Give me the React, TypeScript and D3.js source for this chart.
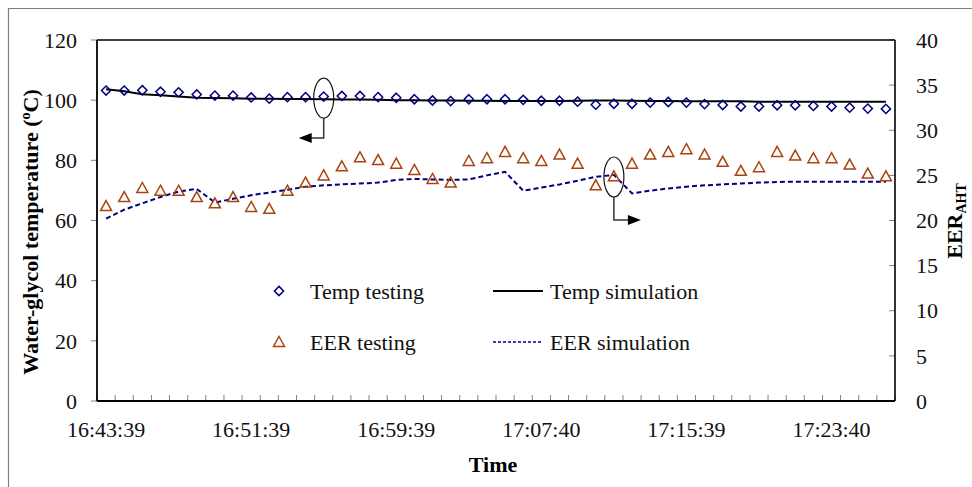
import React from 'react';
import * as d3 from 'd3';

const tempTesting = [
  103.2, 103.2, 103.3, 102.8, 102.6, 101.9, 101.5, 101.5, 100.9, 100.5,
  101.0, 101.0, 101.2, 101.4, 101.4, 101.0, 100.8, 100.3, 99.9, 99.7,
  100.3, 100.3, 100.3, 100.1, 99.8, 99.8, 99.5, 98.5, 98.8, 98.8,
  99.2, 99.4, 99.2, 98.7, 98.4, 97.9, 97.9, 98.3, 98.3, 98.1,
  97.9, 97.5, 97.2, 97.1,
];
const tempSimulation = [
  103.6, 103.0, 102.0, 101.6, 101.2, 100.8, 100.7, 100.6, 100.5, 100.5,
  100.4, 100.4, 100.3, 100.2, 100.2, 100.1, 100.0, 100.0, 99.9, 99.9,
  99.8, 99.8, 99.7, 99.7, 99.7, 99.7, 99.8, 99.9, 99.9, 99.8,
  99.7, 99.7, 99.6, 99.6, 99.6, 99.6, 99.5, 99.5, 99.5, 99.5,
  99.5, 99.5, 99.5, 99.5,
];
const eerTesting = [
  21.6, 22.6, 23.6, 23.3, 23.3, 22.6, 21.9, 22.6, 21.5, 21.3,
  23.3, 24.2, 25.0, 26.0, 27.0, 26.7, 26.3, 25.6, 24.6, 24.2,
  26.6, 26.9, 27.6, 26.9, 26.6, 27.3, 26.3, 23.9, 24.9, 26.3,
  27.3, 27.6, 27.9, 27.3, 26.5, 25.5, 25.9, 27.6, 27.2, 26.9,
  26.9, 26.2, 25.2, 24.9,
];
const eerSimulation = [
  20.2, 21.2, 21.9, 22.6, 23.2, 23.5, 22.0, 22.4, 22.8, 23.1,
  23.4, 23.75, 23.9, 24.0, 24.1, 24.2, 24.5, 24.6, 24.55, 24.5,
  24.55, 25.0, 25.4, 23.3, 23.65, 24.0, 24.4, 24.85, 25.05, 23.0,
  23.3, 23.55, 23.75, 23.9, 24.0, 24.1, 24.2, 24.27, 24.3, 24.3,
  24.3, 24.3, 24.3, 24.3,
];
const xTickLabels = ['16:43:39', '16:51:39', '16:59:39', '17:07:40', '17:15:39', '17:23:40'];
const xTickIndex = [0, 8, 16, 24, 32, 40];
const leftTicks = [0, 20, 40, 60, 80, 100, 120];
const rightTicks = [0, 5, 10, 15, 20, 25, 30, 35, 40];

const FONT = "'Liberation Serif', 'Times New Roman', Times, 'DejaVu Serif', serif";
const NAVY = '#000080';
const BROWN = '#a9440f';
const GRAY = '#808080';

const diamond = (r: number) => `M0,${-r}L${r},0L0,${r}L${-r},0Z`;
const triangle = 'M0,-5.5L5.5,4.5L-5.5,4.5Z';

export default function App() {
  const W = 972, H = 487;
  const left = 97, right = 895, top = 40, bottom = 401;
  const n = tempTesting.length;
  const x = d3.scaleBand<number>().domain(d3.range(n)).range([left, right]).padding(0);
  const bw = x.bandwidth();
  const cx = (i: number) => (x(i) as number) + bw / 2;
  const yL = d3.scaleLinear().domain([0, 120]).range([bottom, top]);
  const yR = d3.scaleLinear().domain([0, 40]).range([bottom, top]);

  const tempLine = d3.line<number>().x((_, i) => cx(i)).y(d => yL(d));
  const eerLine = d3.line<number>().x((_, i) => cx(i)).y(d => yR(d));

  const boundaries = d3.range(n + 1).map(k => left + k * bw);

  const a1x = cx(12), a1y = yL(tempTesting[12]) + 1.5;
  const a2x = cx(28), a2y = yR(eerTesting[28]) + 0.7;

  const txt = { fontFamily: FONT } as React.CSSProperties;

  return (
    <svg width={W} height={H} style={{ position: 'absolute', left: 0, top: 0, background: '#fff', fontFamily: FONT }}>
      <rect x={0} y={0} width={W} height={H} fill="#fff" />
      <path d={`M8.5,${H + 2}V8.5H${W + 2}`} fill="none" stroke={GRAY} strokeWidth={1.2} />

      {leftTicks.map(t => (
        <g key={'l' + t}>
          <line x1={left - 6} x2={left} y1={yL(t)} y2={yL(t)} stroke={GRAY} strokeWidth={1} />
          <text style={txt} x={77} y={yL(t)} dy="0.35em" textAnchor="end" fontSize={22} fill="#111">{t}</text>
        </g>
      ))}
      {rightTicks.map(t => (
        <g key={'r' + t}>
          <line x1={right - 6} x2={right} y1={yR(t)} y2={yR(t)} stroke={GRAY} strokeWidth={1} />
          <text style={txt} x={916} y={yR(t)} dy="0.35em" textAnchor="start" fontSize={22} fill="#111">{t}</text>
        </g>
      ))}
      {boundaries.map((b, k) => (
        <line key={'b' + k} x1={b} x2={b} y1={bottom - 6} y2={bottom} stroke={GRAY} strokeWidth={1} />
      ))}
      {xTickIndex.map((i, k) => (
        <text style={txt} key={'xl' + k} x={cx(i)} y={437} textAnchor="middle" fontSize={22} fill="#111">{xTickLabels[k]}</text>
      ))}

      <line x1={left} x2={right} y1={top} y2={top} stroke="#000" strokeWidth={1.3} />
      <line x1={right} x2={right} y1={top} y2={bottom} stroke="#000" strokeWidth={1.6} />
      <line x1={left} x2={left} y1={top} y2={bottom} stroke="#000" strokeWidth={1.8} />
      <line x1={left} x2={right} y1={bottom} y2={bottom} stroke="#000" strokeWidth={1.8} />

      <path d={tempLine(tempSimulation) || ''} fill="none" stroke="#000" strokeWidth={2} />
      <path d={eerLine(eerSimulation) || ''} fill="none" stroke={NAVY} strokeWidth={2} strokeDasharray="5,3" />

      {tempTesting.map((v, i) => (
        <path key={'d' + i} d={diamond(4.6)} transform={`translate(${cx(i)},${yL(v)})`}
          fill="none" stroke={NAVY} strokeWidth={1.5} />
      ))}
      {eerTesting.map((v, i) => (
        <path key={'t' + i} d={triangle} transform={`translate(${cx(i)},${yR(v)})`}
          fill="none" stroke={BROWN} strokeWidth={1.5} />
      ))}

      <ellipse cx={a1x} cy={a1y} rx={10} ry={20} fill="none" stroke="#111" strokeWidth={1.2} />
      <path d={`M${a1x},${a1y + 20}V${a1y + 40}H${a1x - 13}`} fill="none" stroke="#333" strokeWidth={1.5} />
      <path d={`M${a1x - 25},${a1y + 40}L${a1x - 12},${a1y + 35}L${a1x - 12},${a1y + 45}Z`} fill="#000" />

      <ellipse cx={a2x} cy={a2y} rx={10} ry={20} fill="none" stroke="#111" strokeWidth={1.2} />
      <path d={`M${a2x},${a2y + 20}V${a2y + 43}H${a2x + 15}`} fill="none" stroke="#333" strokeWidth={1.5} />
      <path d={`M${a2x + 27},${a2y + 43}L${a2x + 14},${a2y + 38}L${a2x + 14},${a2y + 48}Z`} fill="#000" />

      <path d={diamond(4.6)} transform="translate(279,291)" fill="none" stroke={NAVY} strokeWidth={1.5} />
      <text style={txt} x={310} y={299} fontSize={22} fill="#111">Temp testing</text>
      <path d={triangle} transform="translate(279,342)" fill="none" stroke={BROWN} strokeWidth={1.5} />
      <text style={txt} x={310} y={350} fontSize={22} fill="#111">EER testing</text>
      <line x1={493} x2={543} y1={291} y2={291} stroke="#000" strokeWidth={2} />
      <text style={txt} x={550} y={299} fontSize={22} fill="#111">Temp simulation</text>
      <line x1={493} x2={543} y1={342} y2={342} stroke={NAVY} strokeWidth={1.3} strokeDasharray="3,2" />
      <text style={txt} x={550} y={350} fontSize={22} fill="#111">EER simulation</text>

      <text style={txt} x={493} y={472} textAnchor="middle" fontSize={22} fontWeight="bold" fill="#000">Time</text>
      <text style={txt} transform="translate(38,232) rotate(-90)" textAnchor="middle" fontSize={22} fontWeight="bold" fill="#000">
        Water-glycol temperature (<tspan fontSize={14} dy={-8}>o</tspan><tspan dy={8}>C)</tspan>
      </text>
      <text style={txt} transform="translate(962,221) rotate(-90)" textAnchor="middle" fontSize={22} fontWeight="bold" fill="#000">
        EER<tspan fontSize={14} dy={4}>AHT</tspan>
      </text>
    </svg>
  );
}
